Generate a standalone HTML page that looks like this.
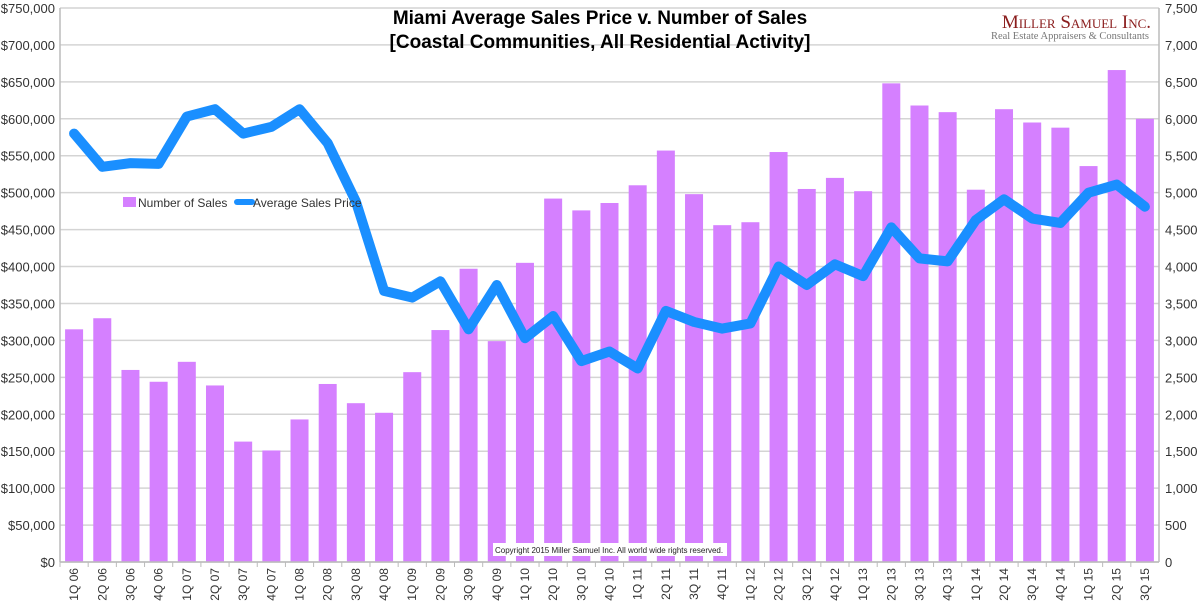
<!DOCTYPE html>
<html><head><meta charset="utf-8"><style>
body{margin:0;background:#fff;}
svg{display:block;font-family:"Liberation Sans",sans-serif;}
</style></head><body>
<svg id="c" width="1200" height="607">
<g id="grid"></g>
<g id="bars"></g>
<g id="line"></g>
<g id="axes"></g>
<text x="600" y="24" text-anchor="middle" font-size="19" font-weight="bold">Miami Average Sales Price v. Number of Sales</text>
<text x="600" y="48" text-anchor="middle" font-size="19" font-weight="bold">[Coastal Communities, All Residential Activity]</text>
<g>
<text x="1151" y="28" text-anchor="end" font-family="Liberation Serif,serif" font-size="19" fill="#8a1c1c" style="font-variant:small-caps">Miller Samuel Inc.</text>
<text x="1149" y="39" text-anchor="end" font-family="Liberation Serif,serif" font-size="10.5" fill="#777">Real Estate Appraisers &amp; Consultants</text>
</g>
<g>
<rect x="123" y="197" width="13" height="10" fill="#d580ff"/>
<text x="138" y="207" font-size="12" fill="#333">Number of Sales</text>
<line x1="237" y1="202" x2="252" y2="202" stroke="#1a8fff" stroke-width="6" stroke-linecap="round"/>
<text x="253" y="207" font-size="12" fill="#333">Average Sales Price</text>
</g>
<g>
<rect x="493" y="543" width="234" height="13" fill="#fff"/>
<text x="495" y="553" font-size="8" fill="#222">Copyright 2015 Miller Samuel Inc.  All world wide rights reserved.</text>
</g>
</svg>
<script>
const categories=["1Q 06","2Q 06","3Q 06","4Q 06","1Q 07","2Q 07","3Q 07","4Q 07","1Q 08","2Q 08","3Q 08","4Q 08","1Q 09","2Q 09","3Q 09","4Q 09","1Q 10","2Q 10","3Q 10","4Q 10","1Q 11","2Q 11","3Q 11","4Q 11","1Q 12","2Q 12","3Q 12","4Q 12","1Q 13","2Q 13","3Q 13","4Q 13","1Q 14","2Q 14","3Q 14","4Q 14","1Q 15","2Q 15","3Q 15"];
const salesCount=[3150,3300,2600,2440,2710,2390,1630,1510,1930,2410,2150,2020,2570,3140,3970,2990,4050,4920,4760,4860,5100,5570,4980,4560,4600,5550,5050,5200,5020,6480,6180,6090,5040,6130,5950,5880,5360,6660,6000];
const avgPrice=[580000,535000,540000,539000,603000,613000,580000,589000,613000,567000,488000,367000,358000,380000,315000,375000,303000,333000,272000,285000,262000,340000,325000,316000,323000,400000,375000,403000,387000,453000,411000,407000,463000,491000,465000,459000,500000,511000,481000];
const leftTicks=[0,50000,100000,150000,200000,250000,300000,350000,400000,450000,500000,550000,600000,650000,700000,750000];
const rightTicks=[0,500,1000,1500,2000,2500,3000,3500,4000,4500,5000,5500,6000,6500,7000,7500];
const NS="http://www.w3.org/2000/svg";
const X0=60,X1=1159,Y0=562,Y1=8;
const bw=(X1-X0)/categories.length;
const xc=i=>X0+bw*(i+0.5);
const yL=v=>Y0-(v/750000)*(Y0-Y1);
const yR=v=>Y0-(v/7500)*(Y0-Y1);
function mk(tag,attrs,parent){const e=document.createElementNS(NS,tag);for(const k in attrs)e.setAttribute(k,attrs[k]);parent.appendChild(e);return e;}
const grid=document.getElementById('grid'),bars=document.getElementById('bars'),line=document.getElementById('line'),axes=document.getElementById('axes');
leftTicks.forEach((t,i)=>{
 const g=mk('line',{x1:X0,x2:X1,y1:yL(t),y2:yL(t),stroke:'#d4d4d4','stroke-width':1.5},grid);
 
 
 const l=mk('text',{x:X0-5,y:yL(t)+5,'text-anchor':'end','font-size':13,fill:'#333'},axes);
 l.textContent='$'+t.toLocaleString('en-US');
 
 
});
rightTicks.forEach(t=>{
 const l=mk('text',{x:X1+6,y:yR(t)+5,'font-size':13,fill:'#333'},axes);
 l.textContent=t.toLocaleString('en-US');
 
 
});
const ax=mk('line',{x1:X0,x2:X0,y1:Y1,y2:Y0,stroke:'#bbb','stroke-width':1.5},axes);


const ax2=mk('line',{x1:X1,x2:X1,y1:Y1,y2:Y0,stroke:'#bbb','stroke-width':1.5},axes);


const ax3=mk('line',{x1:X0,x2:X1,y1:Y0,y2:Y0,stroke:'#bbb','stroke-width':1.5},axes);


categories.forEach((c,i)=>{
 const b=mk('rect',{x:xc(i)-9,y:yR(salesCount[i]),width:18,height:Y0-yR(salesCount[i]),fill:'#d580ff'},bars);
 
 
 const tk=mk('line',{x1:X0+bw*i,x2:X0+bw*i,y1:Y0,y2:Y0+5,stroke:'#bbb'},axes);
 
 
 const l=mk('text',{x:0,y:0,'text-anchor':'end','font-size':12,fill:'#333',transform:`translate(${xc(i)+4},${Y0+6}) rotate(-90)`},axes);
 l.textContent=c;
 
 
});
const pts=avgPrice.map((v,i)=>xc(i)+','+yL(v)).join(' ');
const pl=mk('polyline',{points:pts,fill:'none',stroke:'#1a8fff','stroke-width':10,'stroke-linejoin':'round','stroke-linecap':'round'},line);


</script>
</body></html>
